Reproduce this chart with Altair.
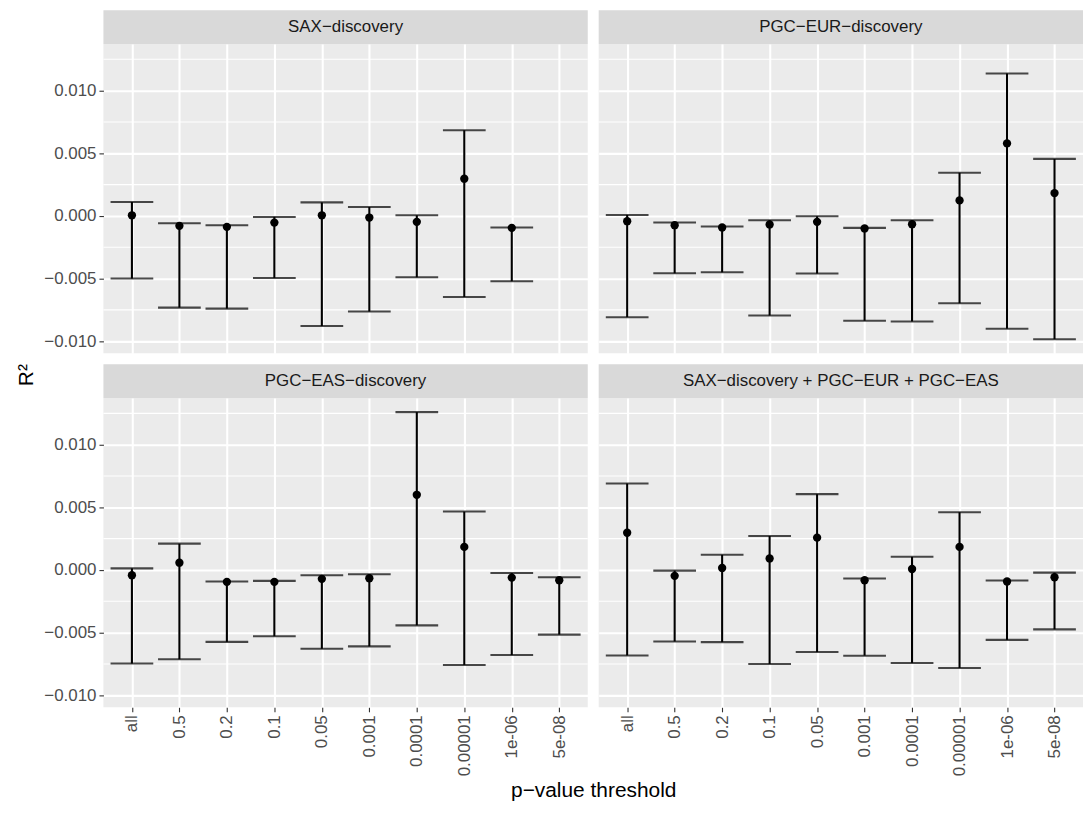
import altair as alt
import pandas as pd

thresholds = ["all", "0.5", "0.2", "0.1", "0.05", "0.001", "0.0001", "0.00001", "1e-06", "5e-08"]
panels = ["SAX−discovery", "PGC−EUR−discovery", "PGC−EAS−discovery", "SAX−discovery + PGC−EUR + PGC−EAS"]

# SAX-discovery (no value at 5e-08)
sax_r2 = [0.00005, -0.00079, -0.00087, -0.00053, 0.00005, -0.00013, -0.00047, 0.00297, -0.00095]
sax_lo = [-0.00500, -0.00732, -0.00740, -0.00495, -0.00879, -0.00763, -0.00490, -0.00647, -0.00521]
sax_hi = [0.00111, -0.00058, -0.00074, -0.00008, 0.00108, 0.00071, 0.00005, 0.00684, -0.00092]

eur_r2 = [-0.00042, -0.00074, -0.00092, -0.00068, -0.00047, -0.00100, -0.00066, 0.00124, 0.00579, 0.00182]
eur_lo = [-0.00808, -0.00458, -0.00450, -0.00795, -0.00460, -0.00837, -0.00842, -0.00697, -0.00900, -0.00984]
eur_hi = [0.00008, -0.00053, -0.00084, -0.00034, -0.00003, -0.00095, -0.00034, 0.00345, 0.01137, 0.00455]

eas_r2 = [-0.00042, 0.00058, -0.00095, -0.00095, -0.00071, -0.00066, 0.00600, 0.00184, -0.00061, -0.00082]
eas_lo = [-0.00747, -0.00713, -0.00574, -0.00529, -0.00629, -0.00610, -0.00442, -0.00758, -0.00679, -0.00516]
eas_hi = [0.00013, 0.00210, -0.00092, -0.00087, -0.00042, -0.00034, 0.01260, 0.00466, -0.00024, -0.00058]

comb_r2 = [0.00297, -0.00047, 0.00016, 0.00092, 0.00258, -0.00082, 0.00008, 0.00184, -0.00092, -0.00058]
comb_lo = [-0.00682, -0.00571, -0.00576, -0.00750, -0.00655, -0.00684, -0.00742, -0.00782, -0.00558, -0.00474]
comb_hi = [0.00690, -0.00005, 0.00121, 0.00271, 0.00605, -0.00068, 0.00105, 0.00461, -0.00084, -0.00021]

y_major = [-0.010, -0.005, 0.000, 0.005, 0.010]
y_minor = [-0.0075, -0.0025, 0.0025, 0.0075, 0.0125]

series = [
    (sax_r2, sax_lo, sax_hi),
    (eur_r2, eur_lo, eur_hi),
    (eas_r2, eas_lo, eas_hi),
    (comb_r2, comb_lo, comb_hi),
]

all_lo = min(min(s[1]) for s in series)
all_hi = max(max(s[2]) for s in series)
span = all_hi - all_lo
y_domain = [all_lo - 0.05 * span, all_hi + 0.05 * span]

W, H = 487, 311
STRIP = 34
FONT = "Liberation Sans"
step = W / (len(thresholds) - 1 + 1.2)
cap = 0.9 * step

minor_df = pd.DataFrame({"v": y_minor})


def panel(idx):
    r2, lo, hi = series[idx]
    df = pd.DataFrame({
        "threshold": thresholds[:len(r2)],
        "r2": r2, "lower": lo, "upper": hi,
    })
    left = idx in (0, 2)
    bottom = idx in (2, 3)
    xscale = alt.Scale(type="point", domain=thresholds, padding=0.6)
    yscale = alt.Scale(domain=y_domain, nice=False, zero=False)
    xaxis = alt.Axis(
        title=None, grid=True, gridColor="white", gridWidth=2.1, domain=False,
        labels=bottom, ticks=bottom, labelAngle=270, labelFontSize=17,
        labelColor="#4D4D4D", tickColor="#333333", tickSize=4.5, tickWidth=1.1,
        labelPadding=3, labelFont=FONT,
    )
    yaxis = alt.Axis(
        title=None, grid=True, gridColor="white", gridWidth=2.1, domain=False,
        values=y_major, format=".3f", labels=left, ticks=left, labelFontSize=17,
        labelColor="#4D4D4D", tickColor="#333333", tickSize=4.5, tickWidth=1.1,
        labelPadding=3, labelFont=FONT,
    )
    x = alt.X("threshold:N", scale=xscale, axis=xaxis, sort=thresholds)
    base = alt.Chart(df)

    minor = alt.Chart(minor_df).mark_rule(color="white", strokeWidth=1.1).encode(
        y=alt.Y("v:Q", scale=yscale, axis=yaxis)
    )
    rules = base.mark_rule(color="black", strokeWidth=2.1).encode(
        x=x, y=alt.Y("lower:Q", scale=yscale, axis=yaxis), y2="upper:Q"
    )
    caps_lo = base.mark_tick(color="black", size=cap, thickness=2.1, orient="horizontal").encode(
        x=x, y=alt.Y("lower:Q", scale=yscale, axis=yaxis)
    )
    caps_hi = base.mark_tick(color="black", size=cap, thickness=2.1, orient="horizontal").encode(
        x=x, y=alt.Y("upper:Q", scale=yscale, axis=yaxis)
    )
    pts = base.mark_circle(color="black", size=70, opacity=1).encode(
        x=x, y=alt.Y("r2:Q", scale=yscale, axis=yaxis)
    )
    sdf = pd.DataFrame({"panel": [panels[idx]]})
    strip_rect = alt.Chart(sdf).mark_rect(color="#D9D9D9").encode(
        x=alt.value(0), x2=alt.value(W), y=alt.value(-STRIP), y2=alt.value(0)
    )
    strip_text = alt.Chart(sdf).mark_text(
        fontSize=17, color="#1A1A1A", font=FONT, align="center", baseline="middle"
    ).encode(x=alt.value(W / 2), y=alt.value(-STRIP / 2), text="panel:N")

    layers = [minor, rules, caps_lo, caps_hi, pts, strip_rect, strip_text]
    if idx == 2:
        tdf = pd.DataFrame({"t": ["R²"], "xt": ["p−value threshold"]})
        ytitle = alt.Chart(tdf).mark_text(
            fontSize=21, color="black", font=FONT, angle=270, align="center", baseline="alphabetic"
        ).encode(x=alt.value(-71), y=alt.value(-23), text="t:N")
        xtitle = alt.Chart(tdf).mark_text(
            fontSize=21, color="black", font=FONT, align="center", baseline="middle"
        ).encode(x=alt.value(493), y=alt.value(395), text="xt:N")
        layers += [ytitle, xtitle]
    return alt.layer(*layers).properties(width=W, height=H)


chart = alt.concat(
    panel(0), panel(1), panel(2), panel(3),
    columns=2, spacing={"row": 45, "column": 11}, bounds="flush",
).properties(
    padding={"left": 16, "top": 8, "right": 0, "bottom": 5}
).configure(
    font=FONT, background="white"
).configure_view(
    fill="#EBEBEB", stroke=None
)

chart.save("out.html", embed_options={"renderer": "svg", "actions": False})
